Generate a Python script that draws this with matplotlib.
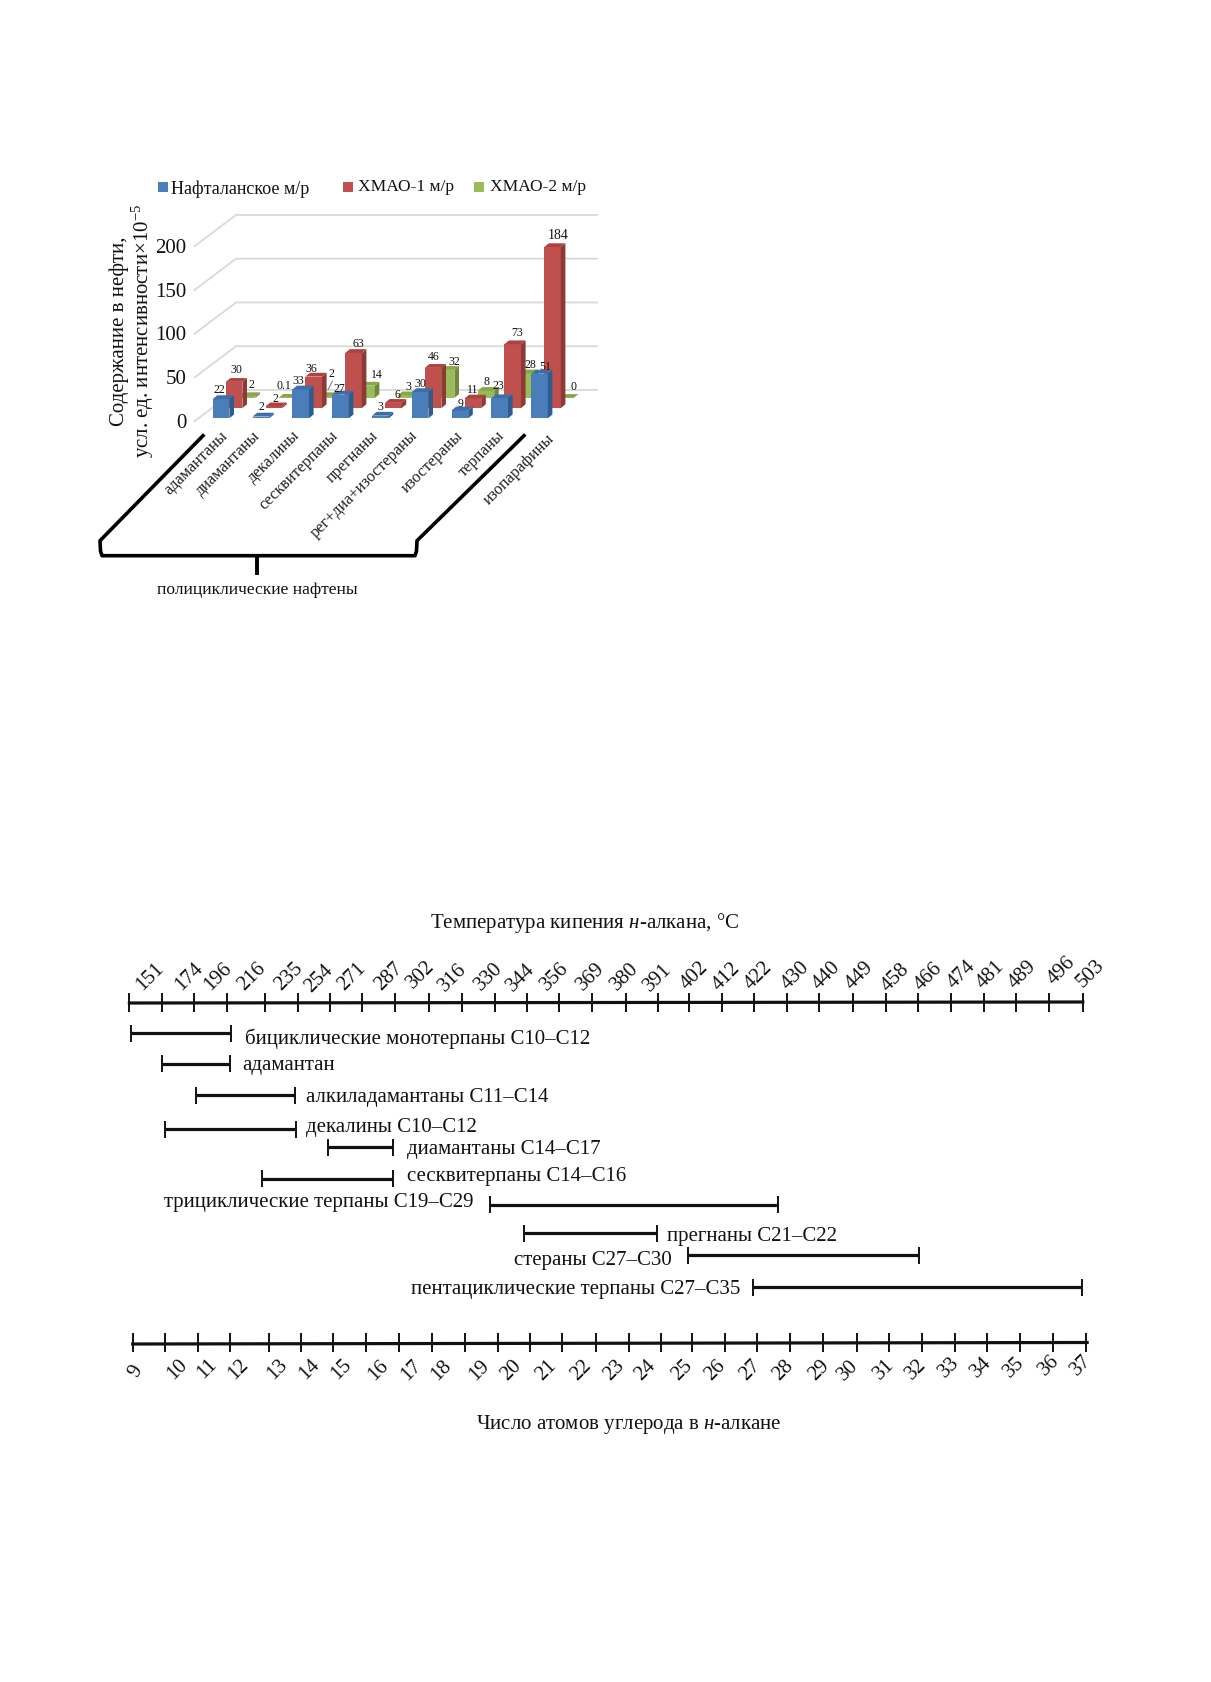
#!/usr/bin/env python3
# Two-panel figure: pseudo-3D bar chart of naphthene content + carbon-number range diagram.
import matplotlib
matplotlib.use("Agg")
import matplotlib.pyplot as plt
from matplotlib.transforms import Affine2D

W, H = 1211, 1683
plt.rcParams["font.family"] = ["Liberation Serif", "DejaVu Serif"]
plt.rcParams["mathtext.fontset"] = "custom"
plt.rcParams["mathtext.rm"] = "Liberation Serif"
plt.rcParams["mathtext.it"] = "Liberation Serif:italic"

# --- bar chart data
categories = ["адамантаны", "диамантаны", "декалины", "сесквитерпаны", "прегнаны",
              "рег+диа+изостераны", "изостераны", "терпаны", "изопарафины"]
naftalan = [22, 2, 33, 27, 3, 30, 9, 23, 51]
khmao1 = [30, 2, 36, 63, 6, 46, 11, 73, 184]
khmao2 = [2, 0.1, 2, 14, 3, 32, 8, 28, 0]
value_ticks = [0, 50, 100, 150, 200]

# --- range diagram data
carbons = list(range(9, 38))
boiling = [151, 174, 196, 216, 235, 254, 271, 287, 302, 316, 330, 344, 356, 369, 380,
           391, 402, 412, 422, 430, 440, 449, 458, 466, 474, 481, 489, 496, 503]
scale_ticks = [9.00, 9.95, 10.91, 11.86, 12.99, 13.95, 14.88, 15.84, 16.81, 17.80,
               18.76, 19.73, 20.67, 21.62, 22.60, 23.57, 24.53, 25.44, 26.40, 27.33,
               28.31, 29.26, 30.26, 31.21, 32.17, 33.14, 34.10, 35.05, 36.02, 37.00]
range_names = ["бициклические монотерпаны С10–С12", "адамантан", "алкиладамантаны С11–С14",
               "декалины С10–С12", "диамантаны С14–С17", "сесквитерпаны С14–С16",
               "трициклические терпаны С19–С29", "прегнаны С21–С22", "стераны С27–С30",
               "пентациклические терпаны С27–С35"]
range_start = [8.94, 9.86, 10.85, 9.95, 14.75, 12.80, 19.50, 20.50, 25.31, 27.22]
range_end = [11.88, 11.86, 13.77, 13.79, 16.64, 16.64, 27.95, 24.41, 32.09, 36.88]

fig = plt.figure(figsize=(W / 100, H / 100), dpi=100)


def px_axes(x0, y0, x1, y1):
    # axes placed by picture pixels (y down)
    return fig.add_axes([x0 / W, 1 - y1 / H, (x1 - x0) / W, (y1 - y0) / H])


# overlay in pixels for legend, bracket and free text
over = px_axes(0, 0, W, H)
over.set_xlim(0, W); over.set_ylim(H, 0); over.axis("off")

# ---------- bar chart
CAT_PX, VAL_PX = 39.8, 0.875
X0_PX, Y0_PX = 221.1, 419.3   # pixel of category 0 / value 0
ax = px_axes(150, 150, 640, 440)
ax.set_xlim((150 - X0_PX) / CAT_PX, (640 - X0_PX) / CAT_PX)
ax.set_ylim((Y0_PX - 440) / VAL_PX, (Y0_PX - 150) / VAL_PX)
ax.axis("off")
ax.patch.set_alpha(0)

BAR_W = 16.6 / CAT_PX
DEPTH_X, DEPTH_Y = 13.0 / CAT_PX, 10.2 / VAL_PX   # shift between series rows
CAP_X, CAP_Y = 4.6 / CAT_PX, 3.8 / VAL_PX         # side/top face extent

# back wall, floor diagonals
GRID = "#D9D9D9"
wall_x0, wall_x1 = (236 - X0_PX) / CAT_PX, (597 - X0_PX) / CAT_PX
diag_x0 = (194.5 - X0_PX) / CAT_PX
for v in value_ticks:
    ax.plot([diag_x0, wall_x0, wall_x1], [v - 3.4, v + 32.4, v + 32.4], color=GRID, lw=1.3, zorder=0)
    ax.annotate(str(v), xy=(diag_x0, v), xytext=(-8, -4), textcoords="offset pixels",
                ha="right", va="center", fontsize=15, color="#111111", annotation_clip=False)

series = [(khmao2, 2, "#9BBB59", "#71893F", "#87A64A"),
          (khmao1, 1, "#C0504D", "#8C3A38", "#AE4240"),
          (naftalan, 0, "#4A7EBB", "#2F5B8F", "#3E6EA8")]
for vals, row, front, side, top in series:
    base = row * DEPTH_Y
    for i, v in enumerate(vals):
        left = i + row * DEPTH_X - BAR_W / 2
        right = left + BAR_W
        z = 3 - row + i * 0.01
        ax.bar(left + BAR_W / 2, v, BAR_W, bottom=base, color=front, zorder=z)
        ax.fill([right, right + CAP_X, right + CAP_X, right],
                [base, base + CAP_Y, base + v + CAP_Y, base + v], color=side, lw=0, zorder=z)
        ax.fill([left, right, right + CAP_X, left + CAP_X],
                [base + v, base + v, base + v + CAP_Y, base + v + CAP_Y], color=top, lw=0, zorder=z)

# hand placed value labels: x nudge and gap above the bar, in pixels
nudge_x = {0: [-2, 1, -2, -1, 0, 0, 1, -1, 6],
           1: [2, 2, -2, 5, 4, 1, 0, 4, 6],
           2: [4, -3, 5, 10, 2, 8, 1, 5, 8]}
gap_y = {0: [6, 7, 6, 3, 6, 5, 4, 9, 4],
         1: [9, 5, 5, 6, 5, 8, 6, 8, 9],
         2: [8, 9, 19, 8, 5, 5, 6, 6, 8]}
for vals, row, *_ in series:
    for i, v in enumerate(vals):
        size = 10 if v == 184 else 8.5
        ax.annotate(f"{v:g}", xy=(i + row * DEPTH_X, row * DEPTH_Y + v + CAP_Y),
                    xytext=(nudge_x[row][i], gap_y[row][i]), textcoords="offset pixels",
                    ha="center", va="center", fontsize=size, color="#111111", zorder=10)
# leader of the decalin label
ax.annotate("", xy=(2 + 2 * DEPTH_X, 2 * DEPTH_Y + 2 + CAP_Y), xytext=(7, 14), textcoords="offset pixels",
            arrowprops=dict(arrowstyle="-", color="#777777", lw=0.7), zorder=10)

cat_nudge = [4, -3, -3, -5, -4, -5, 1, 2, 12]
for i, name in enumerate(categories):
    ax.annotate(name, xy=(i, 0), xytext=(cat_nudge[i], -17 if i == 8 else -14), textcoords="offset pixels",
                rotation=45, rotation_mode="anchor", ha="right", va="center", fontsize=11.7,
                color="#222222", annotation_clip=False)

# legend
legend = [("Нафталанское м/р", "#4A7EBB", 158, 171, 189, 13), ("ХМАО-1 м/р", "#C0504D", 343, 358.5, 187, 12.6),
          ("ХМАО-2 м/р", "#9BBB59", 474, 489.5, 187, 12.6)]
for label, color, mx, tx, ty, fs in legend:
    over.add_patch(plt.Rectangle((mx, 182.5), 10, 10, color=color, lw=0))
    over.text(tx, ty, label, fontsize=fs, ha="left", va="center", color="#111111")

over.text(119, 331, "Содержание в нефти,", rotation=90, fontsize=15, ha="center", va="center", color="#111111")
over.text(143, 331, "усл. ед. интенсивности×10$^{−5}$", rotation=90, fontsize=15, ha="center", va="center", color="#111111")

# bracket under the bars
over.plot([203, 100, 100.5, 102, 415, 416.5, 417, 524],
          [436.7, 541.7, 552, 556.7, 556.7, 552, 541.7, 436.7], color="black", lw=2.6)
over.plot([256.5, 256.5], [556.7, 574], color="black", lw=2.8)
over.text(257, 590, "полициклические нафтены", fontsize=12.6, ha="center", va="center", color="#111111")

# ---------- range diagram
rng_top, rng_bot = 960, 1400
rax = px_axes(100, rng_top, 1130, rng_bot)
PX_C = 34.05   # pixels per carbon atom on the lower scale
C0_PX = 132.7
rax.set_xlim(9 + (100 - C0_PX) / PX_C, 9 + (1130 - C0_PX) / PX_C)
rax.set_ylim(rng_bot, rng_top)   # y in picture pixels, only layout
rax.axis("off")
rax.patch.set_alpha(0)

top_shift = Affine2D().translate(-3.3, 0)
top_tr = rax.transData + top_shift
AX_LW, TICK_LW = 2.3, 1.4
INK = "#111111"

# upper scale (boiling point)
rax.plot([scale_ticks[0], scale_ticks[-1]], [1004, 1003], color=INK, lw=AX_LW, transform=top_tr)
rax.vlines(scale_ticks, 994, 1013, color=INK, lw=TICK_LW, transform=top_tr)
top_nudge = [25, 33, 25, 25, 29, 23, 21, 26, 23, 19, 23, 19, 19, 22, 22, 20, 25, 22, 18, 23,
             18, 16, 20, 18, 16, 8, 6, 13, 6]
top_lift = [0, 0, 0, 0, 0, -2, 0, 0, 2, -1, 0, -1, 0, 0, 0, -1, 1, 0, 1, 1, 1, 1, -1, 0, 2, 2, 2, 6, 3]
for c, t, dx, dy in zip(carbons, boiling, top_nudge, top_lift):
    rax.annotate(str(t), xy=(c, 977), xytext=(dx * 0.647 + 1, dy), textcoords="offset pixels", rotation=45,
                 rotation_mode="anchor", ha="center", va="center", fontsize=15, color=INK)

# lower scale (carbon number)
rax.plot([scale_ticks[0], scale_ticks[-1] + 0.03], [1345, 1343.5], color=INK, lw=AX_LW)
rax.vlines(scale_ticks, 1334, 1353, color=INK, lw=TICK_LW)
low_nudge = [5, 16, 10, 5, 13, 10, 6, 12, 9, 4, 9, 6, 7, 9, 7, 3, 7, 5, 8, 5, 8, 1, 3, 1, -1, -4, -6, -4, -8]
low_lift = [-1, 1, 1, 1, 1, 1, 1, 0, 0, 0, 0, 0, 0, 0, 0, 0, 0, 0, 0, 0, 0, 0, 1, 1, 3, 3, 3, 5, 5]
for c, dx, dy in zip(carbons, low_nudge, low_lift):
    rax.annotate(str(c), xy=(c, 1370), xytext=(dx * 0.647, dy), textcoords="offset pixels",
                 rotation=60 if c == 9 else 45, rotation_mode="anchor", ha="center", va="center",
                 fontsize=15, color=INK)

# compound ranges: row y, and where the caption sits
range_y = [1034.3, 1064.7, 1096, 1130.3, 1148.3, 1179.7, 1205.7, 1234.3, 1256, 1288.3]
label_dy = [4.7, 1.3, 1.7, -2.6, 1.7, -2.7, -3, 2.7, 5, 1]
label_gap = [14, 12, 11, 10, 14, 14, 17, 10, 16, 13]
label_left = [False, False, False, False, False, False, True, False, True, True]
rax.hlines(range_y, range_start, range_end, color=INK, lw=AX_LW)
rax.vlines(range_start, [y - 8.5 for y in range_y], [y + 8.5 for y in range_y], color=INK, lw=TICK_LW)
rax.vlines(range_end, [y - 8.5 for y in range_y], [y + 8.5 for y in range_y], color=INK, lw=TICK_LW)
for name, a, b, y, dy, gap, left in zip(range_names, range_start, range_end, range_y, label_dy, label_gap, label_left):
    rax.annotate(name, xy=(a if left else b, y), xytext=(-gap if left else gap, -dy),
                 textcoords="offset pixels", ha="right" if left else "left", va="center",
                 fontsize=15, color=INK)

over.text(585, 923, r"Температура кипения $\mathit{н}$-алкана, °С", fontsize=15, ha="center", va="center", color=INK)
over.text(629, 1425, r"Число атомов углерода в $\mathit{н}$-алкане", fontsize=15, ha="center", va="center", color=INK)

fig.savefig("out.png", dpi=100, facecolor="white")
